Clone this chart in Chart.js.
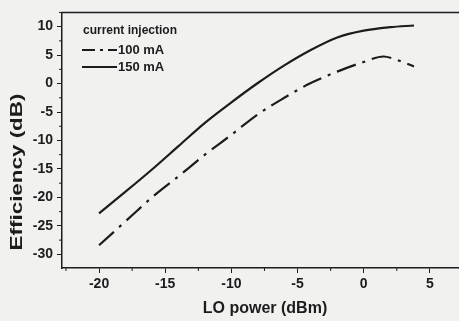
<!DOCTYPE html>
<html lang="en">
<head>
  <meta charset="UTF-8">
  <title>Efficiency vs LO power</title>
  <script src="https://cdn.jsdelivr.net/npm/chart.js"></script>
  <style>
    html, body { margin: 0; padding: 0; background: #f1f1f0; }
    #wrap { width: 459px; height: 321px; position: relative; }
  </style>
</head>
<body>
  <div id="wrap"><canvas id="effChart" width="459" height="321"></canvas></div>

  <script>
    // data
    const loPower100 = [-20, -18, -16, -14, -12, -10, -8, -6, -4, -2, 0, 1.5, 2.2, 3.8];
    const eff100 = [-28.4, -24.2, -20.0, -16.3, -12.5, -9.0, -5.4, -2.5, 0.1, 2.1, 3.8, 4.75, 4.4, 3.0];
    const loPower150 = [-20, -18, -16, -14, -12, -10, -8, -6, -4, -2, 0, 2, 3.8];
    const eff150 = [-22.8, -19.0, -15.1, -11.0, -6.9, -3.3, 0.1, 3.2, 5.9, 8.1, 9.3, 9.9, 10.2];

    const xTicks = [-20, -15, -10, -5, 0, 5];
    const yTicks = [-30, -25, -20, -15, -10, -5, 0, 5, 10];
    const xMinor = [-22.5, -17.5, -12.5, -7.5, -2.5, 2.5];
    const yMinor = [-27.5, -22.5, -17.5, -12.5, -7.5, -2.5, 2.5, 7.5, 12.5];

    const ink = '#1c1c1c';
    const font = 'Liberation Sans, Arial, sans-serif';
    const dashDot = [20, 7, 3, 7];

    function pts(xs, ys) {
      return xs.map((x, i) => ({ x: x, y: ys[i] }));
    }

    // frame, minor ticks, axis titles, legend
    const decorPlugin = {
      id: 'decor',
      afterDraw(chart) {
        const ctx = chart.ctx;
        const a = chart.chartArea;
        const xs = chart.scales.x, ys = chart.scales.y;
        ctx.save();
        ctx.strokeStyle = ink;
        ctx.lineWidth = 1.5;
        ctx.beginPath();
        ctx.moveTo(a.left, a.top);
        ctx.lineTo(a.right, a.top);
        ctx.stroke();

        ctx.lineWidth = 1;
        ctx.beginPath();
        xMinor.forEach(v => {
          const px = xs.getPixelForValue(v);
          ctx.moveTo(px, a.bottom);
          ctx.lineTo(px, a.bottom + 3);
        });
        yMinor.forEach(v => {
          if (v > ys.max) return;
          const py = ys.getPixelForValue(v);
          ctx.moveTo(a.left, py);
          ctx.lineTo(a.left - 3, py);
        });
        ctx.stroke();

        // axis titles
        ctx.fillStyle = ink;
        ctx.textAlign = 'center';
        ctx.textBaseline = 'middle';
        ctx.font = 'bold 16px ' + font;
        ctx.fillText('LO power (dBm)', 265, 309);

        ctx.save();
        ctx.translate(18, 172);
        ctx.rotate(-Math.PI / 2);
        ctx.scale(1.4, 1);
        ctx.fillText('Efficiency (dB)', 0, 0);
        ctx.restore();

        // legend
        ctx.textAlign = 'left';
        ctx.font = 'bold 12px ' + font;
        ctx.fillText('current injection', 83, 31);
        ctx.font = 'bold 13px ' + font;
        chart.data.datasets.forEach((ds, i) => {
          const y = 50 + i * 17;
          ctx.strokeStyle = ds.borderColor;
          ctx.lineWidth = ds.borderWidth;
          ctx.setLineDash(ds.borderDash ? [13, 5, 3, 5] : []);
          ctx.beginPath();
          ctx.moveTo(82, y);
          ctx.lineTo(117, y);
          ctx.stroke();
          ctx.setLineDash([]);
          ctx.fillText(ds.label, 118, y);
        });
        ctx.restore();
      }
    };

    new Chart(document.getElementById('effChart'), {
      type: 'line',
      data: {
        datasets: [
          {
            label: '100 mA',
            data: pts(loPower100, eff100),
            borderColor: ink,
            borderWidth: 2.2,
            borderDash: dashDot,
            pointRadius: 0,
            cubicInterpolationMode: 'monotone',
            fill: false
          },
          {
            label: '150 mA',
            data: pts(loPower150, eff150),
            borderColor: ink,
            borderWidth: 2.2,
            pointRadius: 0,
            cubicInterpolationMode: 'monotone',
            fill: false
          }
        ]
      },
      options: {
        responsive: false,
        animation: false,
        events: [],
        layout: { padding: { top: 10, right: 0, left: 0, bottom: 0 } },
        plugins: {
          legend: { display: false },
          tooltip: { enabled: false }
        },
        scales: {
          x: {
            type: 'linear',
            min: -22.8,
            max: 7.2,
            afterFit(scale) { scale.height = 53; },
            afterBuildTicks(scale) { scale.ticks = xTicks.map(v => ({ value: v })); },
            border: { display: true, color: ink, width: 1.5 },
            grid: { drawOnChartArea: false, drawTicks: true, tickLength: 5, color: ink },
            ticks: {
              color: ink,
              padding: 3,
              maxRotation: 0,
              font: { family: font, size: 14, weight: 'bold' }
            }
          },
          y: {
            min: -32.4,
            max: 12.5,
            afterFit(scale) { scale.width = 62; },
            afterBuildTicks(scale) { scale.ticks = yTicks.map(v => ({ value: v })); },
            border: { display: true, color: ink, width: 1.5 },
            grid: { drawOnChartArea: false, drawTicks: true, tickLength: 5, color: ink },
            ticks: {
              color: ink,
              padding: 4,
              font: { family: font, size: 14, weight: 'bold' }
            }
          }
        }
      },
      plugins: [decorPlugin]
    });
  </script>
</body>
</html>
